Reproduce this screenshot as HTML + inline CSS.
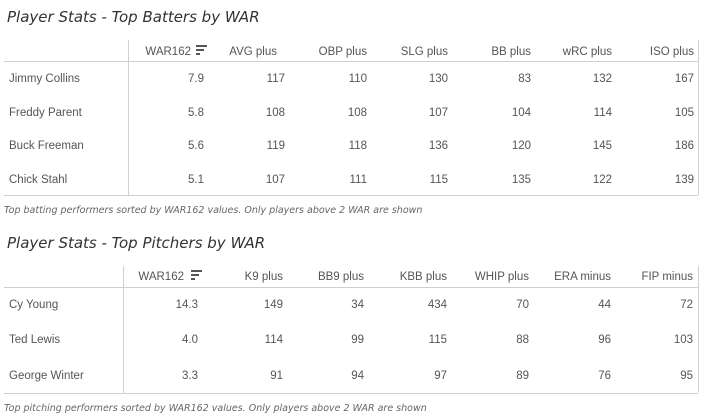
<!DOCTYPE html>
<html><head><meta charset="utf-8"><style>
body{margin:0;width:721px;height:419px;background:#fff;position:relative;overflow:hidden;font-family:"Liberation Sans",sans-serif;}
.a{position:absolute;white-space:nowrap;font-size:11.5px;color:#555;line-height:14px;margin-top:1px;}
.r{text-align:right;transform:translateX(-100%);}
.t{position:absolute;font-family:"DejaVu Sans",sans-serif;font-style:italic;font-size:15px;color:#333;white-space:nowrap;}
.c{position:absolute;font-family:"DejaVu Sans",sans-serif;font-style:italic;font-size:9.5px;color:#666;white-space:nowrap;}
.h{position:absolute;background:#d0d0d0;height:1px;}
.v{position:absolute;background:#d0d0d0;width:1px;}
.ic{position:absolute;}
.ic i{display:block;height:2px;background:#555;margin-bottom:2px;}
</style></head><body>
<div class="t" style="left:7px;top:8px">Player Stats - Top Batters by WAR</div>
<div class="h" style="left:4px;top:61px;width:694px"></div>
<div class="h" style="left:4px;top:195px;width:694px"></div>
<div class="v" style="left:128px;top:40px;height:155px"></div>
<div class="v" style="left:698px;top:40px;height:155px"></div>
<div class="a r" style="left:191px;top:44px">WAR162</div>
<div class="ic" style="left:196px;top:45px"><i style="width:11px"></i><i style="width:8px"></i><i style="width:4px"></i></div>
<div class="a r" style="left:277px;top:44px">AVG plus</div>
<div class="a r" style="left:367px;top:44px">OBP plus</div>
<div class="a r" style="left:448px;top:44px">SLG plus</div>
<div class="a r" style="left:531px;top:44px">BB plus</div>
<div class="a r" style="left:612px;top:44px">wRC plus</div>
<div class="a r" style="left:694px;top:44px">ISO plus</div>

<div class="a" style="left:9px;top:71px">Jimmy Collins</div>
<div class="a r" style="left:204px;top:71px">7.9</div><div class="a r" style="left:285px;top:71px">117</div><div class="a r" style="left:367px;top:71px">110</div><div class="a r" style="left:448px;top:71px">130</div><div class="a r" style="left:531px;top:71px">83</div><div class="a r" style="left:612px;top:71px">132</div><div class="a r" style="left:694px;top:71px">167</div>
<div class="a" style="left:9px;top:105px">Freddy Parent</div>
<div class="a r" style="left:204px;top:105px">5.8</div><div class="a r" style="left:285px;top:105px">108</div><div class="a r" style="left:367px;top:105px">108</div><div class="a r" style="left:448px;top:105px">107</div><div class="a r" style="left:531px;top:105px">104</div><div class="a r" style="left:612px;top:105px">114</div><div class="a r" style="left:694px;top:105px">105</div>
<div class="a" style="left:9px;top:138px">Buck Freeman</div>
<div class="a r" style="left:204px;top:138px">5.6</div><div class="a r" style="left:285px;top:138px">119</div><div class="a r" style="left:367px;top:138px">118</div><div class="a r" style="left:448px;top:138px">136</div><div class="a r" style="left:531px;top:138px">120</div><div class="a r" style="left:612px;top:138px">145</div><div class="a r" style="left:694px;top:138px">186</div>
<div class="a" style="left:9px;top:172px">Chick Stahl</div>
<div class="a r" style="left:204px;top:172px">5.1</div><div class="a r" style="left:285px;top:172px">107</div><div class="a r" style="left:367px;top:172px">111</div><div class="a r" style="left:448px;top:172px">115</div><div class="a r" style="left:531px;top:172px">135</div><div class="a r" style="left:612px;top:172px">122</div><div class="a r" style="left:694px;top:172px">139</div>
<div class="c" style="left:4px;top:205px">Top batting performers sorted by WAR162 values. Only players above 2 WAR are shown</div>

<div class="t" style="left:7px;top:234px">Player Stats - Top Pitchers by WAR</div>
<div class="h" style="left:4px;top:287px;width:694px"></div>
<div class="h" style="left:4px;top:393px;width:694px"></div>
<div class="v" style="left:123px;top:266px;height:127px"></div>
<div class="v" style="left:698px;top:266px;height:127px"></div>
<div class="a r" style="left:184px;top:269px">WAR162</div>
<div class="ic" style="left:191px;top:270px"><i style="width:11px"></i><i style="width:8px"></i><i style="width:4px"></i></div>
<div class="a r" style="left:283px;top:269px">K9 plus</div>
<div class="a r" style="left:364px;top:269px">BB9 plus</div>
<div class="a r" style="left:447px;top:269px">KBB plus</div>
<div class="a r" style="left:529px;top:269px">WHIP plus</div>
<div class="a r" style="left:611px;top:269px">ERA minus</div>
<div class="a r" style="left:693px;top:269px">FIP minus</div>

<div class="a" style="left:9px;top:297px">Cy Young</div>
<div class="a r" style="left:198px;top:297px">14.3</div><div class="a r" style="left:283px;top:297px">149</div><div class="a r" style="left:364px;top:297px">34</div><div class="a r" style="left:447px;top:297px">434</div><div class="a r" style="left:529px;top:297px">70</div><div class="a r" style="left:611px;top:297px">44</div><div class="a r" style="left:693px;top:297px">72</div>
<div class="a" style="left:9px;top:332px">Ted Lewis</div>
<div class="a r" style="left:198px;top:332px">4.0</div><div class="a r" style="left:283px;top:332px">114</div><div class="a r" style="left:364px;top:332px">99</div><div class="a r" style="left:447px;top:332px">115</div><div class="a r" style="left:529px;top:332px">88</div><div class="a r" style="left:611px;top:332px">96</div><div class="a r" style="left:693px;top:332px">103</div>
<div class="a" style="left:9px;top:368px">George Winter</div>
<div class="a r" style="left:198px;top:368px">3.3</div><div class="a r" style="left:283px;top:368px">91</div><div class="a r" style="left:364px;top:368px">94</div><div class="a r" style="left:447px;top:368px">97</div><div class="a r" style="left:529px;top:368px">89</div><div class="a r" style="left:611px;top:368px">76</div><div class="a r" style="left:693px;top:368px">95</div>
<div class="c" style="left:4px;top:403px">Top pitching performers sorted by WAR162 values. Only players above 2 WAR are shown</div>
</body></html>
